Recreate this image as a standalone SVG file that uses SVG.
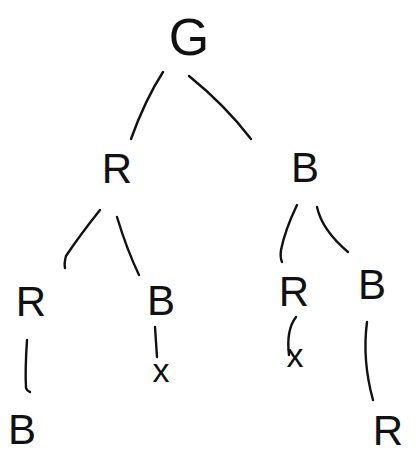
<svg xmlns="http://www.w3.org/2000/svg" width="417" height="455" viewBox="0 0 417 455">
  <style>
    .lbl { font-family: "Liberation Sans", "DejaVu Sans", sans-serif; fill: #111; text-anchor: middle; }
    .big { font-size: 52px; }
    .mid { font-size: 42px; }
    .sm { font-size: 34px; }
    .edge { fill: none; stroke: #111; stroke-width: 2.4; stroke-linecap: round; }
  </style>
  <rect width="417" height="455" fill="#fff"/>
  <g id="connectors">
    <path class="edge" d="M163,72 Q145,100 131,139"/>
    <path class="edge" d="M189,76 Q225,105 251,139"/>
    <path class="edge" d="M100,210 Q80,235 66,256 Q64,263 65,268"/>
    <path class="edge" d="M117,217 Q127,250 139,275"/>
    <path class="edge" d="M297,205 Q285,230 281,250 Q280,258 282,262"/>
    <path class="edge" d="M317,207 Q322,230 348,252"/>
    <path class="edge" d="M27,340 Q25,370 26,388 Q27,391 30,392"/>
    <path class="edge" d="M155,327 L157,357"/>
    <path class="edge" d="M296,317 Q286,330 289,355"/>
    <path class="edge" d="M367,322 Q362,360 373,400"/>
  </g>
  <g id="node-G"><text class="lbl big" x="189" y="55">G</text></g>
  <g id="node-R1"><text class="lbl mid" x="117" y="183">R</text></g>
  <g id="node-B1"><text class="lbl mid" x="305" y="182">B</text></g>
  <g id="node-R2"><text class="lbl mid" x="31" y="316">R</text></g>
  <g id="node-B2"><text class="lbl mid" x="161" y="315">B</text></g>
  <g id="node-R3"><text class="lbl mid" x="294" y="306">R</text></g>
  <g id="node-B3"><text class="lbl mid" x="372" y="299">B</text></g>
  <g id="node-x1"><text class="lbl sm" x="161" y="382">x</text></g>
  <g id="node-x2"><text class="lbl sm" x="295" y="367">x</text></g>
  <g id="node-B4"><text class="lbl mid" x="22" y="444">B</text></g>
  <g id="node-R4"><text class="lbl mid" x="388" y="445">R</text></g>
</svg>
